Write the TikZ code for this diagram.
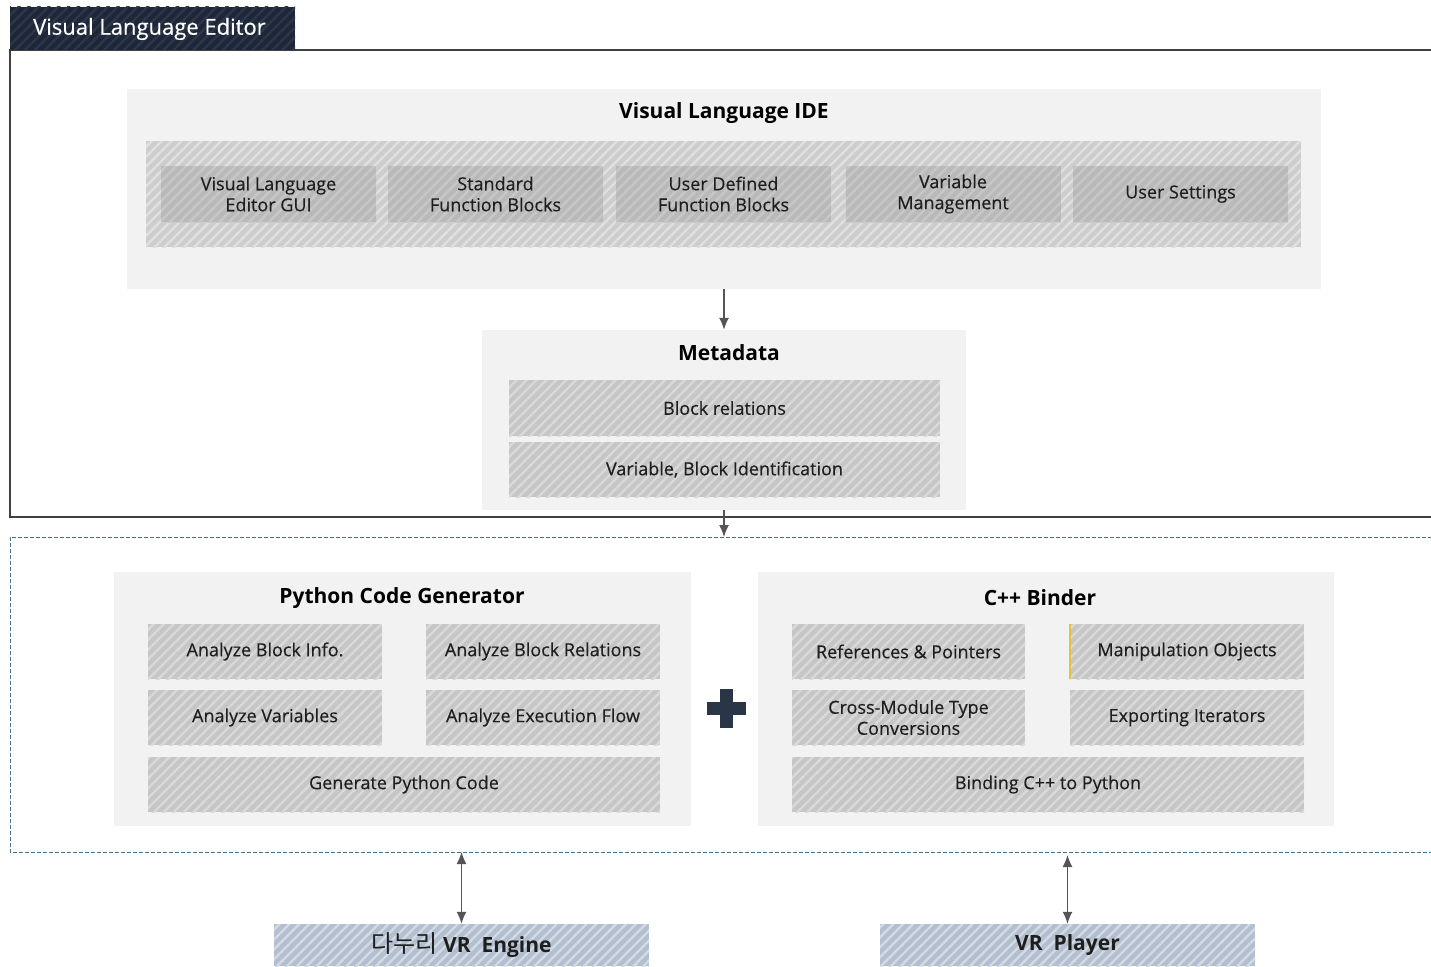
\documentclass[tikz,border=0pt]{standalone}
\usepackage{fontspec}
\setmainfont{Open Sans}
\newfontfamily\lblfont[FakeBold=0.35]{Open Sans}
\newfontfamily\krfont{Noto Sans CJK KR}
\usetikzlibrary{patterns.meta,arrows.meta}
\definecolor{panelbg}{HTML}{F2F2F2}
\definecolor{hbase}{HTML}{C6C6C6}
\definecolor{hstripe}{HTML}{D9D9D9}
\definecolor{bandbase}{HTML}{CDCDCD}
\definecolor{bandstripe}{HTML}{E0E0E0}
\definecolor{inbase}{HTML}{B9B9B9}
\definecolor{instripe}{HTML}{C7C7C7}
\definecolor{bluebase}{HTML}{B3BFCF}
\definecolor{bluestripe}{HTML}{D2DAE5}
\definecolor{tabbase}{HTML}{1E2738}
\definecolor{tabstripe}{HTML}{2E3749}
\definecolor{txt}{HTML}{1E1E1E}
\definecolor{framec}{HTML}{404040}
\definecolor{dashc}{HTML}{4A7090}
\definecolor{arrc}{HTML}{555555}
\definecolor{plusc}{HTML}{2A3548}
\definecolor{yel}{HTML}{E8C040}
\tikzset{
  hatchbox/.style n args={2}{fill=#1, postaction={pattern={Lines[angle=45,distance=7pt,line width=2.4pt]}, pattern color=#2}},
  panel/.style={fill=panelbg, inner sep=0pt},
  lbl/.style={align=center, inner sep=0pt, text=txt, font=\lblfont\fontsize{18}{21}\selectfont},
  box/.style={lbl, hatchbox={hbase}{hstripe}},
  inbox/.style={lbl, hatchbox={inbase}{instripe}, minimum width=215, minimum height=56},
  ptitle/.style={inner sep=0pt, text=black, font=\fontsize{21}{24}\selectfont\bfseries},
  bottombox/.style={hatchbox={bluebase}{bluestripe}, inner sep=0pt, minimum width=375, minimum height=42, text=txt, font=\fontsize{21}{24}\selectfont\bfseries},
  framel/.style={draw=framec, line width=1.4pt},
  dashbox/.style={draw=dashc, line width=0.9pt, dash pattern=on 4pt off 2pt},
  arr/.style={draw=arrc, line width=1.4pt, -{Latex[length=12pt,width=10pt]}},
  darr/.style={draw=arrc, line width=1.4pt, {Latex[length=12pt,width=10pt]}-{Latex[length=12pt,width=10pt]}},
}
\begin{document}
\begin{tikzpicture}[x=1pt,y=-1pt]
\useasboundingbox (0,0) rectangle (1431,966);
\clip (0,0) rectangle (1431,966);
\fill[white] (0,0) rectangle (1431,966);

% frames
\draw[framel] (1432,50) -- (10,50) -- (10,517) -- (1432,517);
\draw[dashbox] (1432,537) -- (10,537) -- (10,852) -- (1432,852);
\node[hatchbox={tabbase}{tabstripe}, minimum width=285, minimum height=43, inner sep=0pt] (tab) at (152.5,28.5) {};
\node[anchor=west, inner sep=0pt, text=white, font=\lblfont\fontsize{22}{25}\selectfont] (tabt) at (33,29) {Visual Language Editor};

% IDE
\node[panel, minimum width=1194, minimum height=200] (ide) at (724,189) {};
\node[ptitle] (idet) at (724,113) {Visual Language IDE};
\node[hatchbox={bandbase}{bandstripe}, minimum width=1155, minimum height=106, inner sep=0pt] (band) at (723.5,194) {};
\node[inbox] (b1) at (268.5,194) {Visual Language\\Editor GUI};
\node[inbox] (b2) at (495.5,194) {Standard\\Function Blocks};
\node[inbox] (b3) at (723.5,194) {User Defined\\Function Blocks};
\node[inbox] (b4) at (953,194) {Variable\\Management};
\node[inbox] (b5) at (1180.5,194) {User Settings};

% Metadata
\node[panel, minimum width=484, minimum height=180] (meta) at (724,420) {};
\node[ptitle] (metat) at (729,353) {Metadata};
\node[box, minimum width=431, minimum height=56] (br) at (724.5,408) {Block relations};
\node[box, minimum width=431, minimum height=55] (vbi) at (724.5,469.5) {Variable, Block Identification};

\coordinate (dtop) at (724,537);
\draw[arr] (ide.south) -- (meta.north);
\draw[arr] (meta.south) -- (dtop);

% Python code generator
\node[panel, minimum width=577, minimum height=254] (py) at (402.5,699) {};
\node[ptitle] (pyt) at (402,598) {Python Code Generator};
\node[box, minimum width=234, minimum height=55] (abi) at (265,651.5) {Analyze Block Info.};
\node[box, minimum width=234, minimum height=55] (abr) at (543,651.5) {Analyze Block Relations};
\node[box, minimum width=234, minimum height=55] (av) at (265,717.5) {Analyze Variables};
\node[box, minimum width=234, minimum height=55] (aef) at (543,717.5) {Analyze Execution Flow};
\node[box, minimum width=512, minimum height=55] (gpc) at (404,784.5) {Generate Python Code};

% plus
\fill[plusc] (719.5,689) rectangle (732.5,728);
\fill[plusc] (706.5,702) rectangle (745.5,715);

% C++ binder
\node[panel, minimum width=576, minimum height=254] (cpp) at (1046,699) {};
\node[ptitle] (cppt) at (1040,598) {C++ Binder};
\node[box, minimum width=233, minimum height=55] (rp) at (908.5,651.5) {References \& Pointers};
\node[box, minimum width=234, minimum height=55] (mo) at (1187,651.5) {Manipulation Objects};
\draw[yel, line width=1.6pt] (mo.north west) -- (mo.south west);
\node[box, minimum width=233, minimum height=55] (cm) at (908.5,717.5) {Cross-Module Type\\Conversions};
\node[box, minimum width=234, minimum height=55] (ei) at (1187,717.5) {Exporting Iterators};
\node[box, minimum width=512, minimum height=55] (bcp) at (1048,784.5) {Binding C++ to Python};

% bottom
\node[bottombox] (engine) at (461.5,945) {{\krfont\mdseries\fontsize{24}{26}\selectfont 다누리} VR\ \ Engine};
\node[bottombox] (player) at (1067.5,945) {VR\ \ Player};
\coordinate (d1) at (461.5,852);
\coordinate (d2) at (1067.5,855);
\draw[darr] (d1) -- (engine.north);
\draw[darr] (d2) -- (player.north);
\end{tikzpicture}
\end{document}
